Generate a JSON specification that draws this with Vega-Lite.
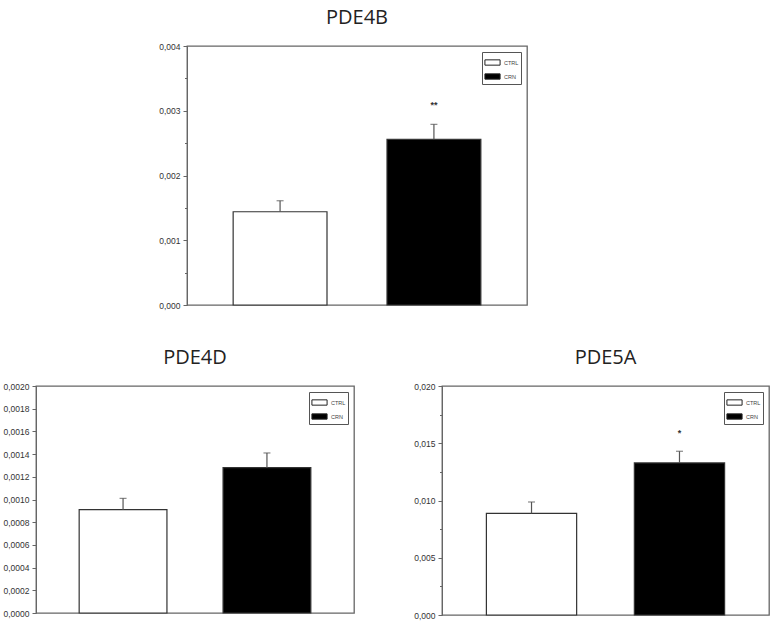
{
  "$schema": "https://vega.github.io/schema/vega-lite/v6.json",
  "padding": {"left": 2, "top": 7, "right": 0, "bottom": 0},
  "background": "white",
  "datasets": {
    "pde4b": [
      {"group": "CTRL", "mean": 0.00144, "upper": 0.00161, "sig": "", "sigY": 0.00161},
      {"group": "CRN", "mean": 0.00256, "upper": 0.00279, "sig": "**", "sigY": 0.00309}
    ],
    "pde4d": [
      {"group": "CTRL", "mean": 0.00091, "upper": 0.00101, "sig": "", "sigY": 0.00101},
      {"group": "CRN", "mean": 0.00128, "upper": 0.00141, "sig": "", "sigY": 0.00141}
    ],
    "pde5a": [
      {"group": "CTRL", "mean": 0.00887, "upper": 0.00987, "sig": "", "sigY": 0.00987},
      {"group": "CRN", "mean": 0.01328, "upper": 0.0143, "sig": "*", "sigY": 0.0159}
    ]
  },
  "resolve": {"scale": {"fill": "independent", "y": "independent"}},
  "spacing": 36,
  "vconcat": [
    {
      "spacing": 10,
      "resolve": {"scale": {"fill": "independent", "y": "independent"}},
      "hconcat": [
        {
          "width": 112,
          "height": 10,
          "view": {"stroke": null},
          "data": {"values": [{}]},
          "mark": {"type": "text"},
          "encoding": {"text": {"value": ""}}
        },
        {
          "width": 340,
          "height": 259,
          "title": {"text": "PDE4B"},
          "data": {"name": "pde4b"},
          "encoding": {
            "x": {"field": "group", "type": "nominal", "sort": ["CTRL", "CRN"], "axis": null,
                  "scale": {"paddingInner": 0.39, "paddingOuter": 0.3}}
          },
          "layer": [
            {
              "mark": {"type": "bar", "stroke": "#333", "strokeWidth": 1.2},
              "encoding": {
                "y": {"field": "mean", "type": "quantitative", "title": null,
                      "scale": {"domain": [0, 0.004], "nice": false},
                      "axis": {"values": [0, 0.0005, 0.001, 0.0015, 0.002, 0.0025, 0.003, 0.0035, 0.004],
                               "tickCount": 30, "format": ".3f", "labelOverlap": false,
                               "labelExpr": "round(datum.value*10000) % 10 == 0 ? replace(datum.label, '.', ',') : ''",
                               "tickSize": {"condition": {"test": "round(datum.value*10000) % 10 != 0", "value": 2.5}, "value": 4}}},
                "fill": {"field": "group", "type": "nominal", "title": null,
                         "scale": {"domain": ["CTRL", "CRN"], "range": ["white", "black"]}}
              }
            },
            {
              "mark": {"type": "rule", "color": "#555", "strokeWidth": 1.2},
              "encoding": {"y": {"field": "mean", "type": "quantitative"}, "y2": {"field": "upper"}}
            },
            {
              "mark": {"type": "tick", "color": "#555", "size": 7, "thickness": 1.2},
              "encoding": {"y": {"field": "upper", "type": "quantitative"}}
            },
            {
              "mark": {"type": "text", "fontSize": 9, "fontWeight": "bold", "baseline": "middle", "color": "#333"},
              "encoding": {"y": {"field": "sigY", "type": "quantitative"}, "text": {"field": "sig"}}
            }
          ]
        }
      ]
    },
    {
      "spacing": 58,
      "resolve": {"scale": {"fill": "independent", "y": "independent"}},
      "hconcat": [
        {
          "width": 318,
          "height": 227,
          "title": {"text": "PDE4D"},
          "data": {"name": "pde4d"},
          "encoding": {
            "x": {"field": "group", "type": "nominal", "sort": ["CTRL", "CRN"], "axis": null,
                  "scale": {"paddingInner": 0.39, "paddingOuter": 0.3}}
          },
          "layer": [
            {
              "mark": {"type": "bar", "stroke": "#333", "strokeWidth": 1.2},
              "encoding": {
                "y": {"field": "mean", "type": "quantitative", "title": null,
                      "scale": {"domain": [0, 0.002], "nice": false},
                      "axis": {"values": [0, 0.0002, 0.0004, 0.0006, 0.0008, 0.001, 0.0012, 0.0014, 0.0016, 0.0018, 0.002],
                               "tickCount": 30, "format": ".4f", "labelOverlap": false,
                               "labelExpr": "replace(datum.label, '.', ',')"}},
                "fill": {"field": "group", "type": "nominal", "title": null,
                         "scale": {"domain": ["CTRL", "CRN"], "range": ["white", "black"]}}
              }
            },
            {
              "mark": {"type": "rule", "color": "#555", "strokeWidth": 1.2},
              "encoding": {"y": {"field": "mean", "type": "quantitative"}, "y2": {"field": "upper"}}
            },
            {
              "mark": {"type": "tick", "color": "#555", "size": 7, "thickness": 1.2},
              "encoding": {"y": {"field": "upper", "type": "quantitative"}}
            }
          ]
        },
        {
          "width": 327,
          "height": 229,
          "title": {"text": "PDE5A"},
          "data": {"name": "pde5a"},
          "encoding": {
            "x": {"field": "group", "type": "nominal", "sort": ["CTRL", "CRN"], "axis": null,
                  "scale": {"paddingInner": 0.39, "paddingOuter": 0.3}}
          },
          "layer": [
            {
              "mark": {"type": "bar", "stroke": "#333", "strokeWidth": 1.2},
              "encoding": {
                "y": {"field": "mean", "type": "quantitative", "title": null,
                      "scale": {"domain": [0, 0.02], "nice": false},
                      "axis": {"values": [0, 0.0025, 0.005, 0.0075, 0.01, 0.0125, 0.015, 0.0175, 0.02],
                               "tickCount": 30, "format": ".3f", "labelOverlap": false,
                               "labelExpr": "round(datum.value*10000) % 50 == 0 ? replace(datum.label, '.', ',') : ''",
                               "tickSize": {"condition": {"test": "round(datum.value*10000) % 50 != 0", "value": 2.5}, "value": 4}}},
                "fill": {"field": "group", "type": "nominal", "title": null,
                         "scale": {"domain": ["CTRL", "CRN"], "range": ["white", "black"]}}
              }
            },
            {
              "mark": {"type": "rule", "color": "#555", "strokeWidth": 1.2},
              "encoding": {"y": {"field": "mean", "type": "quantitative"}, "y2": {"field": "upper"}}
            },
            {
              "mark": {"type": "tick", "color": "#555", "size": 7, "thickness": 1.2},
              "encoding": {"y": {"field": "upper", "type": "quantitative"}}
            },
            {
              "mark": {"type": "text", "fontSize": 9, "fontWeight": "bold", "baseline": "middle", "color": "#333"},
              "encoding": {"y": {"field": "sigY", "type": "quantitative"}, "text": {"field": "sig"}}
            }
          ]
        }
      ]
    }
  ],
  "config": {
    "view": {"stroke": "#666", "strokeWidth": 1.3},
    "title": {"font": "Open Sans", "fontSize": 20, "fontWeight": "normal", "color": "#222", "offset": 14, "anchor": "middle"},
    "axis": {"grid": false, "domainColor": "#666", "tickColor": "#666", "tickSize": 4, "labelFontSize": 8.5,
             "labelColor": "#333", "labelFont": "Liberation Sans", "labelPadding": 3, "labelOverlap": false},
    "legend": {
      "orient": "top-right", "offset": 6, "strokeColor": "#555", "fillColor": "white", "padding": 2,
      "symbolType": "M-1,-0.35H1V0.35H-1Z", "symbolSize": 230, "symbolStrokeColor": "#222", "symbolStrokeWidth": 1,
      "labelFontSize": 5.5, "labelColor": "#444", "rowPadding": 0, "labelOffset": 3
    }
  }
}
